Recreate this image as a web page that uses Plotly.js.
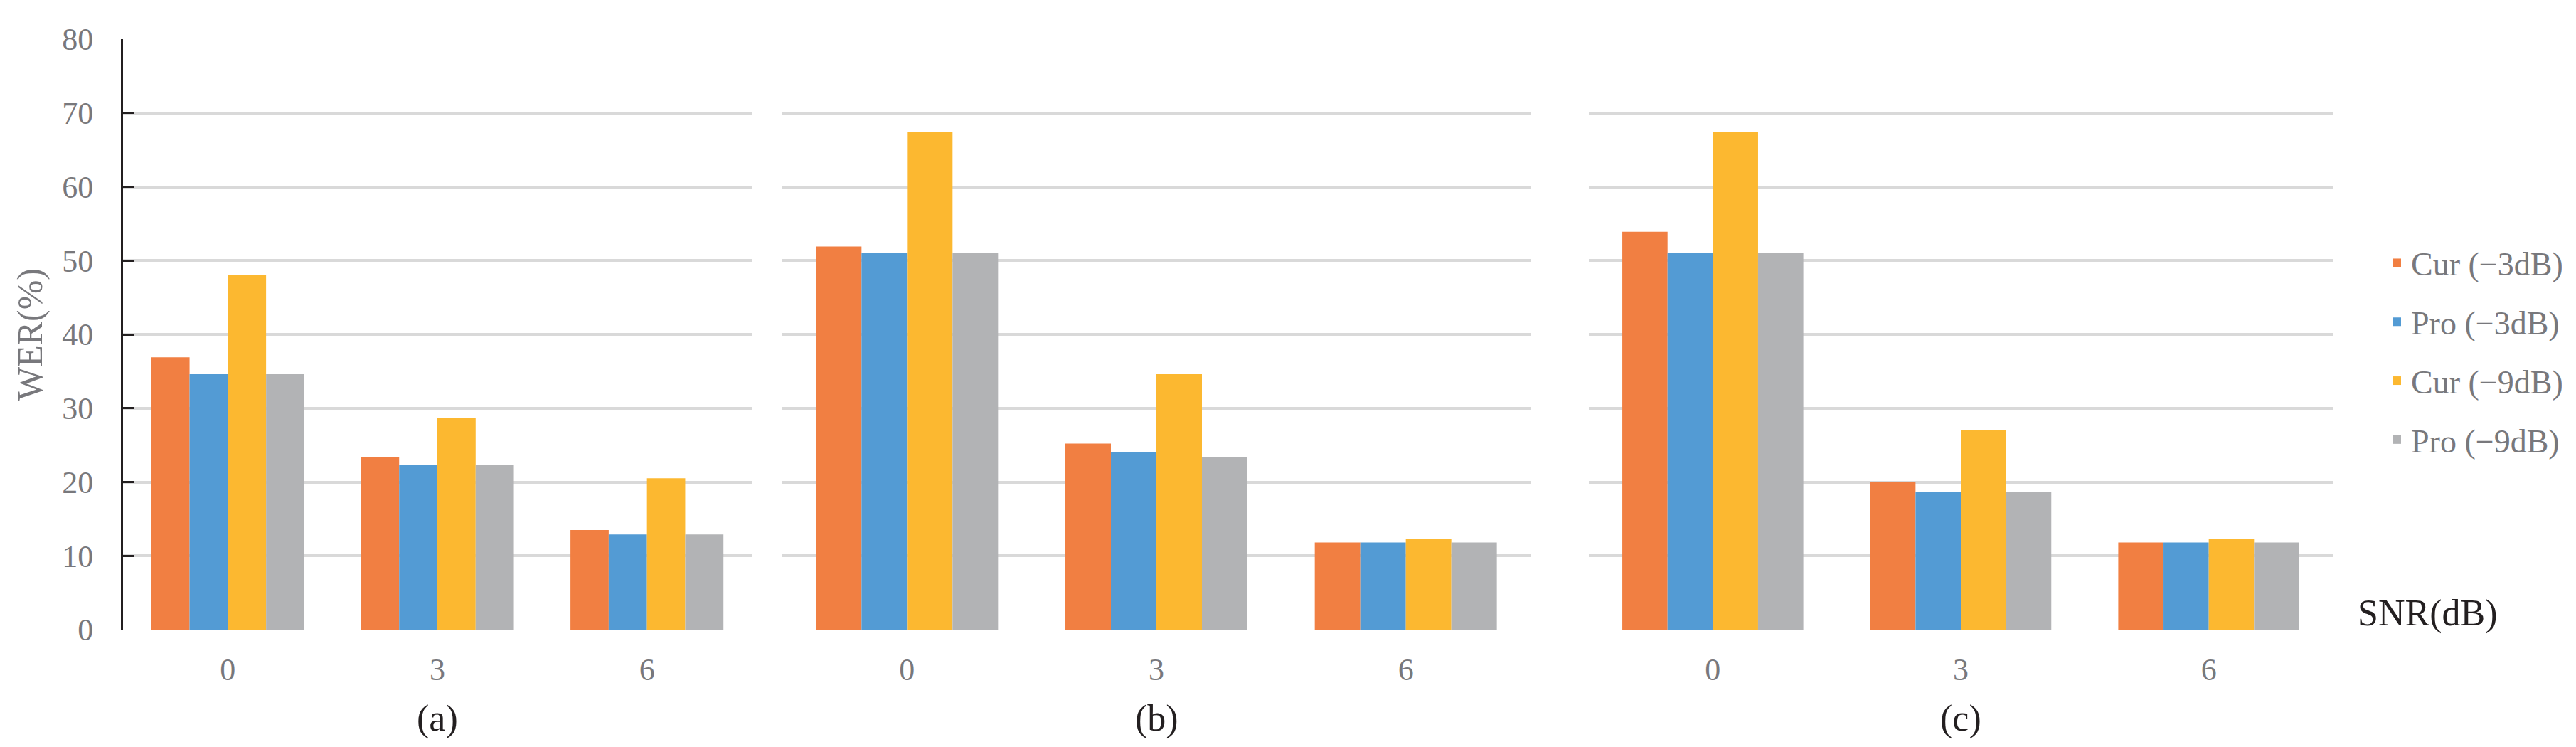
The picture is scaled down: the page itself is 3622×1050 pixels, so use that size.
<!DOCTYPE html>
<html><head><meta charset="utf-8">
<script src="https://cdn.plot.ly/plotly-3.0.1.min.js"></script>
<style>html,body{margin:0;padding:0;background:#fff}#chart{width:3622px;height:1050px}</style>
</head><body><div id="chart"></div>
<script>
// ---- data ----
const snrLabels = ['0', '3', '6'];
const seriesNames = ['Cur (\u22123dB)', 'Pro (\u22123dB)', 'Cur (\u22129dB)', 'Pro (\u22129dB)'];
const panelLabels = ['(a)', '(b)', '(c)'];

const panelA_cur3 = [36.9, 23.4, 13.5];
const panelA_pro3 = [34.6, 22.3, 12.9];
const panelA_cur9 = [48.0, 28.7, 20.5];
const panelA_pro9 = [34.6, 22.3, 12.9];

const panelB_cur3 = [51.9, 25.2, 11.8];
const panelB_pro3 = [51.0, 24.0, 11.8];
const panelB_cur9 = [67.4, 34.6, 12.3];
const panelB_pro9 = [51.0, 23.4, 11.8];

const panelC_cur3 = [53.9, 20.0, 11.8];
const panelC_pro3 = [51.0, 18.7, 11.8];
const panelC_cur9 = [67.4, 27.0, 12.3];
const panelC_pro9 = [51.0, 18.7, 11.8];

// ---- styling ----
const W = 3622, H = 1050;
const colors = ['#F17F42', '#539BD4', '#FCB830', '#B2B3B5'];
const FONT = "'Liberation Serif', 'Times New Roman', serif";
const GRAY = '#78787c';
const GRID = '#d9d9d9';

const panels = [
  [panelA_cur3, panelA_pro3, panelA_cur9, panelA_pro9],
  [panelB_cur3, panelB_pro3, panelB_cur9, panelB_pro9],
  [panelC_cur3, panelC_pro3, panelC_cur9, panelC_pro9]
];
const domainsPx = [[173, 1057], [1100, 2152], [2234, 3280]];
const axisIds = ['', '2', '3'];

const traces = [];
panels.forEach((series, p) => {
  series.forEach((vals, s) => {
    traces.push({
      type: 'bar',
      x: snrLabels,
      y: vals,
      name: seriesNames[s],
      legendgroup: 'g' + s,
      showlegend: p === 0,
      marker: {color: colors[s], line: {width: 0}},
      xaxis: 'x' + axisIds[p],
      yaxis: 'y' + axisIds[p],
      hoverinfo: 'x+y+name'
    });
  });
});

const layout = {
  width: W, height: H,
  margin: {l: 0, r: 0, t: 55, b: 165},
  paper_bgcolor: '#fff', plot_bgcolor: 'rgba(0,0,0,0)',
  barmode: 'group', bargap: 0.27, bargroupgap: 0,
  font: {family: FONT, color: GRAY, size: 44},
  showlegend: true,
  legend: {
    x: 3350 / W, xanchor: 'left', y: 0.665, yanchor: 'top',
    font: {family: FONT, size: 46, color: GRAY},
    traceorder: 'grouped', tracegroupgap: 20,
    bgcolor: 'rgba(0,0,0,0)'
  },
  annotations: [],
};

domainsPx.forEach((d, p) => {
  const id = axisIds[p];
  layout['xaxis' + id] = {
    domain: [d[0] / W, d[1] / W],
    anchor: 'y' + id,
    type: 'category',
    range: [-0.5, snrLabels.length - 0.5],
    showline: false, showgrid: false, zeroline: false,
    ticks: '',
    tickfont: {family: FONT, size: 44, color: GRAY},
    ticklabelstandoff: 26
  };
  const ya = {
    domain: [0, 1],
    anchor: 'x' + id,
    range: [0, 80],
    dtick: 10, tick0: 0,
    showgrid: true, gridcolor: GRID, gridwidth: 4,
    zeroline: false,
    tickfont: {family: FONT, size: 44, color: GRAY}
  };
  if (p === 0) {
    Object.assign(ya, {
      showline: true, linecolor: '#231f20', linewidth: 3,
      ticks: 'inside', ticklen: 16, tickwidth: 3, tickcolor: '#231f20',
      ticklabelstandoff: 30,
      title: {text: 'WER(%)', font: {family: FONT, size: 50, color: GRAY}, standoff: 12}
    });
  } else {
    Object.assign(ya, {
      matches: 'y', showline: false, ticks: '', showticklabels: false
    });
  }
  layout['yaxis' + id] = ya;
  layout.annotations.push({
    text: panelLabels[p], xref: 'x' + id, x: snrLabels.indexOf('3'),
    yref: 'paper', y: (885 - 1010) / 830, yanchor: 'middle', xanchor: 'center',
    showarrow: false, font: {family: FONT, size: 52, color: '#231f20'}
  });
});

layout.annotations.push({
  text: 'SNR(dB)', xref: 'paper', x: 3313 / W, xanchor: 'left',
  yref: 'paper', y: (885 - 862) / 830, yanchor: 'middle',
  showarrow: false, font: {family: FONT, size: 52, color: '#231f20'}
});

Plotly.newPlot('chart', traces, layout, {displayModeBar: false, staticPlot: true});
</script>
</body></html>
